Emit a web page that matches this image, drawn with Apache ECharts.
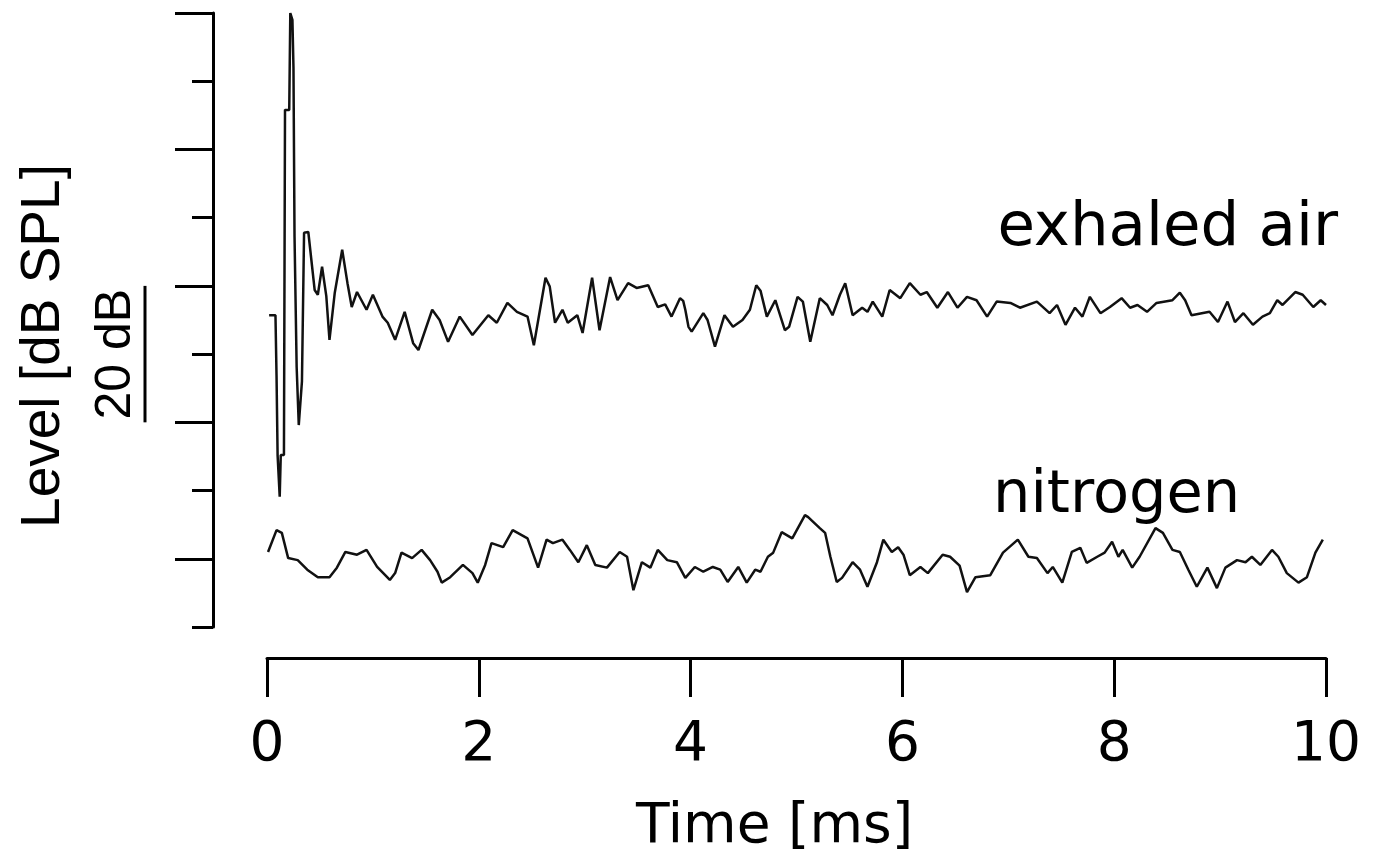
<!DOCTYPE html>
<html>
<head>
<meta charset="utf-8">
<title>Level vs time</title>
<script src="https://cdn.jsdelivr.net/npm/echarts@6/dist/echarts.min.js"></script>
<style>
	html, body { margin: 0; padding: 0; background: #fff; }
	#main { width: 1376px; height: 854px; }
</style>
</head>
<body>
<div id="main"></div>
<script>
// exhaled air trace [ms] / [dB]
var airTime = [0.02, 0.08, 0.09, 0.10, 0.12, 0.13, 0.16, 0.17, 0.21, 0.22, 0.24, 0.25, 0.26, 0.28, 0.30,
	0.33, 0.35, 0.39, 0.45, 0.48, 0.52, 0.56, 0.59, 0.64, 0.71, 0.76, 0.80, 0.85, 0.94, 1.00,
	1.09, 1.14, 1.21, 1.30, 1.38, 1.43, 1.56, 1.63, 1.71, 1.82, 1.94, 2.09, 2.17, 2.27, 2.36,
	2.46, 2.52, 2.63, 2.67, 2.72, 2.79, 2.84, 2.93, 2.98, 3.07, 3.14, 3.24, 3.31, 3.41, 3.49,
	3.60, 3.69, 3.76, 3.82, 3.90, 3.93, 3.95, 3.98, 4.01, 4.12, 4.16, 4.23, 4.32, 4.40, 4.49,
	4.56, 4.62, 4.66, 4.72, 4.80, 4.89, 4.93, 5.01, 5.06, 5.13, 5.22, 5.29, 5.34, 5.41, 5.46,
	5.53, 5.62, 5.67, 5.72, 5.81, 5.88, 5.98, 6.07, 6.17, 6.23, 6.33, 6.43, 6.52, 6.61, 6.70,
	6.80, 6.89, 7.02, 7.11, 7.27, 7.39, 7.46, 7.54, 7.63, 7.70, 7.77, 7.87, 7.96, 8.07, 8.15,
	8.22, 8.31, 8.40, 8.55, 8.62, 8.67, 8.73, 8.90, 8.98, 9.07, 9.14, 9.22, 9.31, 9.40, 9.47,
	9.54, 9.59, 9.71, 9.78, 9.88, 9.95, 10.0];
var airLevel = [45.7, 45.7, 36.9, 25.2, 19.1, 25.2, 25.2, 75.8, 75.8, 90.0, 89.0, 82.0, 57.2, 38.1, 29.6,
	36.0, 57.8, 57.9, 49.4, 48.7, 52.8, 48.5, 42.1, 49.0, 55.3, 50.4, 46.9, 49.1, 46.5, 48.7,
	45.5, 44.6, 42.1, 46.2, 41.6, 40.6, 46.5, 45.0, 41.8, 45.5, 42.8, 45.7, 44.6, 47.5, 46.2,
	45.5, 41.3, 51.2, 49.9, 44.6, 46.5, 44.6, 45.7, 43.1, 51.2, 43.5, 51.3, 47.9, 50.4, 49.7,
	50.1, 46.9, 47.3, 45.5, 48.2, 47.8, 46.5, 44.0, 43.3, 46.0, 45.0, 41.1, 45.7, 44.0, 45.0,
	46.5, 50.1, 49.3, 45.5, 47.9, 43.5, 44.0, 48.4, 47.7, 41.8, 48.2, 47.2, 45.7, 48.7, 50.4,
	45.7, 46.8, 46.2, 47.7, 45.5, 49.4, 48.2, 50.4, 48.7, 49.1, 46.8, 49.1, 46.8, 48.4, 47.9,
	45.5, 47.7, 47.5, 46.8, 47.7, 46.0, 47.2, 44.3, 46.8, 45.5, 48.4, 46.0, 46.9, 48.2, 46.8,
	47.2, 46.2, 47.5, 47.9, 49.0, 47.9, 45.7, 46.2, 44.7, 47.7, 44.7, 46.0, 44.3, 45.5, 46.0,
	47.9, 47.2, 49.1, 48.7, 46.9, 47.9, 47.2];

// nitrogen trace [ms] / [dB]
var n2Time = [0.01, 0.09, 0.14, 0.20, 0.29, 0.38, 0.48, 0.59, 0.66, 0.74, 0.85, 0.94, 1.04, 1.16, 1.21,
	1.27, 1.37, 1.46, 1.54, 1.61, 1.65, 1.73, 1.85, 1.94, 1.99, 2.06, 2.12, 2.23, 2.32, 2.46,
	2.56, 2.64, 2.70, 2.79, 2.86, 2.94, 3.02, 3.10, 3.21, 3.33, 3.40, 3.46, 3.54, 3.62, 3.69,
	3.78, 3.87, 3.95, 4.04, 4.12, 4.21, 4.28, 4.35, 4.45, 4.53, 4.61, 4.66, 4.73, 4.78, 4.86,
	4.96, 5.08, 5.11, 5.22, 5.27, 5.32, 5.38, 5.43, 5.53, 5.60, 5.67, 5.76, 5.82, 5.90, 5.96,
	6.01, 6.07, 6.17, 6.24, 6.38, 6.45, 6.54, 6.61, 6.69, 6.83, 6.95, 7.09, 7.19, 7.27, 7.37,
	7.42, 7.51, 7.60, 7.68, 7.74, 7.84, 7.91, 7.98, 8.04, 8.08, 8.17, 8.24, 8.39, 8.46, 8.55,
	8.62, 8.70, 8.78, 8.88, 8.97, 9.05, 9.16, 9.24, 9.30, 9.38, 9.49, 9.55, 9.63, 9.74, 9.82,
	9.90, 9.97];
var n2Level = [11.0, 14.2, 13.8, 10.1, 9.8, 8.4, 7.3, 7.3, 8.7, 11.0, 10.6, 11.3, 8.8, 6.9, 7.9,
	10.9, 10.1, 11.3, 9.8, 8.1, 6.5, 7.3, 9.1, 7.9, 6.5, 9.1, 12.3, 11.7, 14.2, 13.0,
	8.7, 12.8, 12.3, 12.8, 11.3, 9.5, 12.0, 9.1, 8.7, 11.0, 10.3, 5.4, 9.5, 8.7, 11.3,
	9.8, 9.5, 7.2, 8.8, 8.1, 8.8, 8.4, 6.6, 8.8, 6.5, 8.4, 8.1, 10.3, 10.9, 13.9,
	13.0, 16.4, 16.1, 14.5, 13.8, 10.3, 6.6, 7.2, 9.5, 8.4, 5.9, 9.5, 12.8, 11.0, 11.7,
	10.6, 7.6, 8.8, 7.9, 10.6, 10.3, 9.0, 5.1, 7.3, 7.6, 10.9, 12.8, 10.3, 10.1, 7.9,
	8.8, 6.5, 11.0, 11.6, 9.4, 10.3, 10.9, 12.5, 10.3, 11.3, 8.7, 10.3, 14.5, 13.8, 11.3,
	11.0, 8.4, 5.9, 8.7, 5.7, 8.7, 9.8, 9.5, 10.3, 9.1, 11.3, 10.3, 7.9, 6.5, 7.3,
	10.9, 12.8];

// long ticks on the level axis, and the 20 dB scale bar
var levelLongTicks = [10, 30, 50, 70, 90];
var scaleBar = [30, 50];

var FONT = '"Liberation Sans", Arial, sans-serif';
var WIDE = '"DejaVu Sans", sans-serif';

function pairs(xs, ys) {
	var out = [];
	for (var i = 0; i < xs.length; i++) {
		out.push([xs[i], ys[i]]);
	}
	return out;
}

var myChart = echarts.init(document.getElementById('main'));

var option = {
	backgroundColor : '#fff',
	animation : false,
	grid : {
		left : 267,
		right : 50,
		top : 13,
		bottom : 227,
		outerBoundsMode : 'none'
	},
	xAxis : {
		type : 'value',
		min : 0,
		max : 10,
		interval : 2,
		offset : 31,
		splitLine : { show : false },
		axisLine : { onZero : false, lineStyle : { color : '#000', width : 3 } },
		axisTick : { length : 39, lineStyle : { color : '#000', width : 3 } },
		axisLabel : { color : '#000', fontSize : 55, fontFamily : WIDE, margin : 60 },
		name : 'Time [ms]',
		nameLocation : 'middle',
		nameGap : 142,
		nameTextStyle : { color : '#000', fontSize : 55, fontFamily : WIDE, padding : [0, 44, 0, 0] }
	},
	yAxis : [ {
		type : 'value',
		min : 0,
		max : 90,
		interval : 10,
		position : 'left',
		offset : 54,
		splitLine : { show : false },
		axisLine : { show : true, onZero : false, lineStyle : { color : '#000', width : 3 } },
		axisTick : { show : true, length : 21, lineStyle : { color : '#000', width : 3 } },
		axisLabel : { show : false },
		name : 'Level [dB SPL]',
		nameLocation : 'middle',
		nameRotate : 90,
		nameGap : 142,
		nameTextStyle : { color : '#000', fontSize : 55, fontFamily : FONT, padding : [0, 52, 0, 0] }
	}, {
		type : 'value',
		min : 0,
		max : 90,
		position : 'left',
		offset : 54,
		splitLine : { show : false },
		axisLine : { show : false, onZero : false },
		axisTick : { show : true, length : 38, customValues : levelLongTicks,
			lineStyle : { color : '#000', width : 3 } },
		axisLabel : { show : false }
	} ],
	series : [ {
		name : 'exhaled air',
		type : 'line',
		showSymbol : false,
		lineStyle : { color : '#111', width : 2.5 },
		data : pairs(airTime, airLevel)
	}, {
		name : 'nitrogen',
		type : 'line',
		showSymbol : false,
		lineStyle : { color : '#111', width : 2.5 },
		data : pairs(n2Time, n2Level)
	} ]
};
myChart.setOption(option);

// 20 dB scale bar and the trace names
var yTop = myChart.convertToPixel({ yAxisIndex : 0 }, scaleBar[1]);
var yBot = myChart.convertToPixel({ yAxisIndex : 0 }, scaleBar[0]);
myChart.setOption({
	graphic : [ {
		type : 'line',
		shape : { x1 : 145, y1 : yTop, x2 : 145, y2 : yBot },
		style : { stroke : '#000', lineWidth : 3 }
	}, {
		type : 'text',
		x : 116,
		y : (yTop + yBot) / 2,
		rotation : Math.PI / 2,
		style : { text : '20 dB', fill : '#000', font : '50px ' + FONT, align : 'center', verticalAlign : 'middle' }
	}, {
		type : 'text',
		x : 1338,
		y : 229,
		style : { text : 'exhaled air', fill : '#000', font : '61px ' + WIDE, align : 'right', verticalAlign : 'middle' }
	}, {
		type : 'text',
		x : 993,
		y : 497,
		style : { text : 'nitrogen', fill : '#000', font : '59px ' + WIDE, align : 'left', verticalAlign : 'middle' }
	} ]
});
</script>
</body>
</html>
